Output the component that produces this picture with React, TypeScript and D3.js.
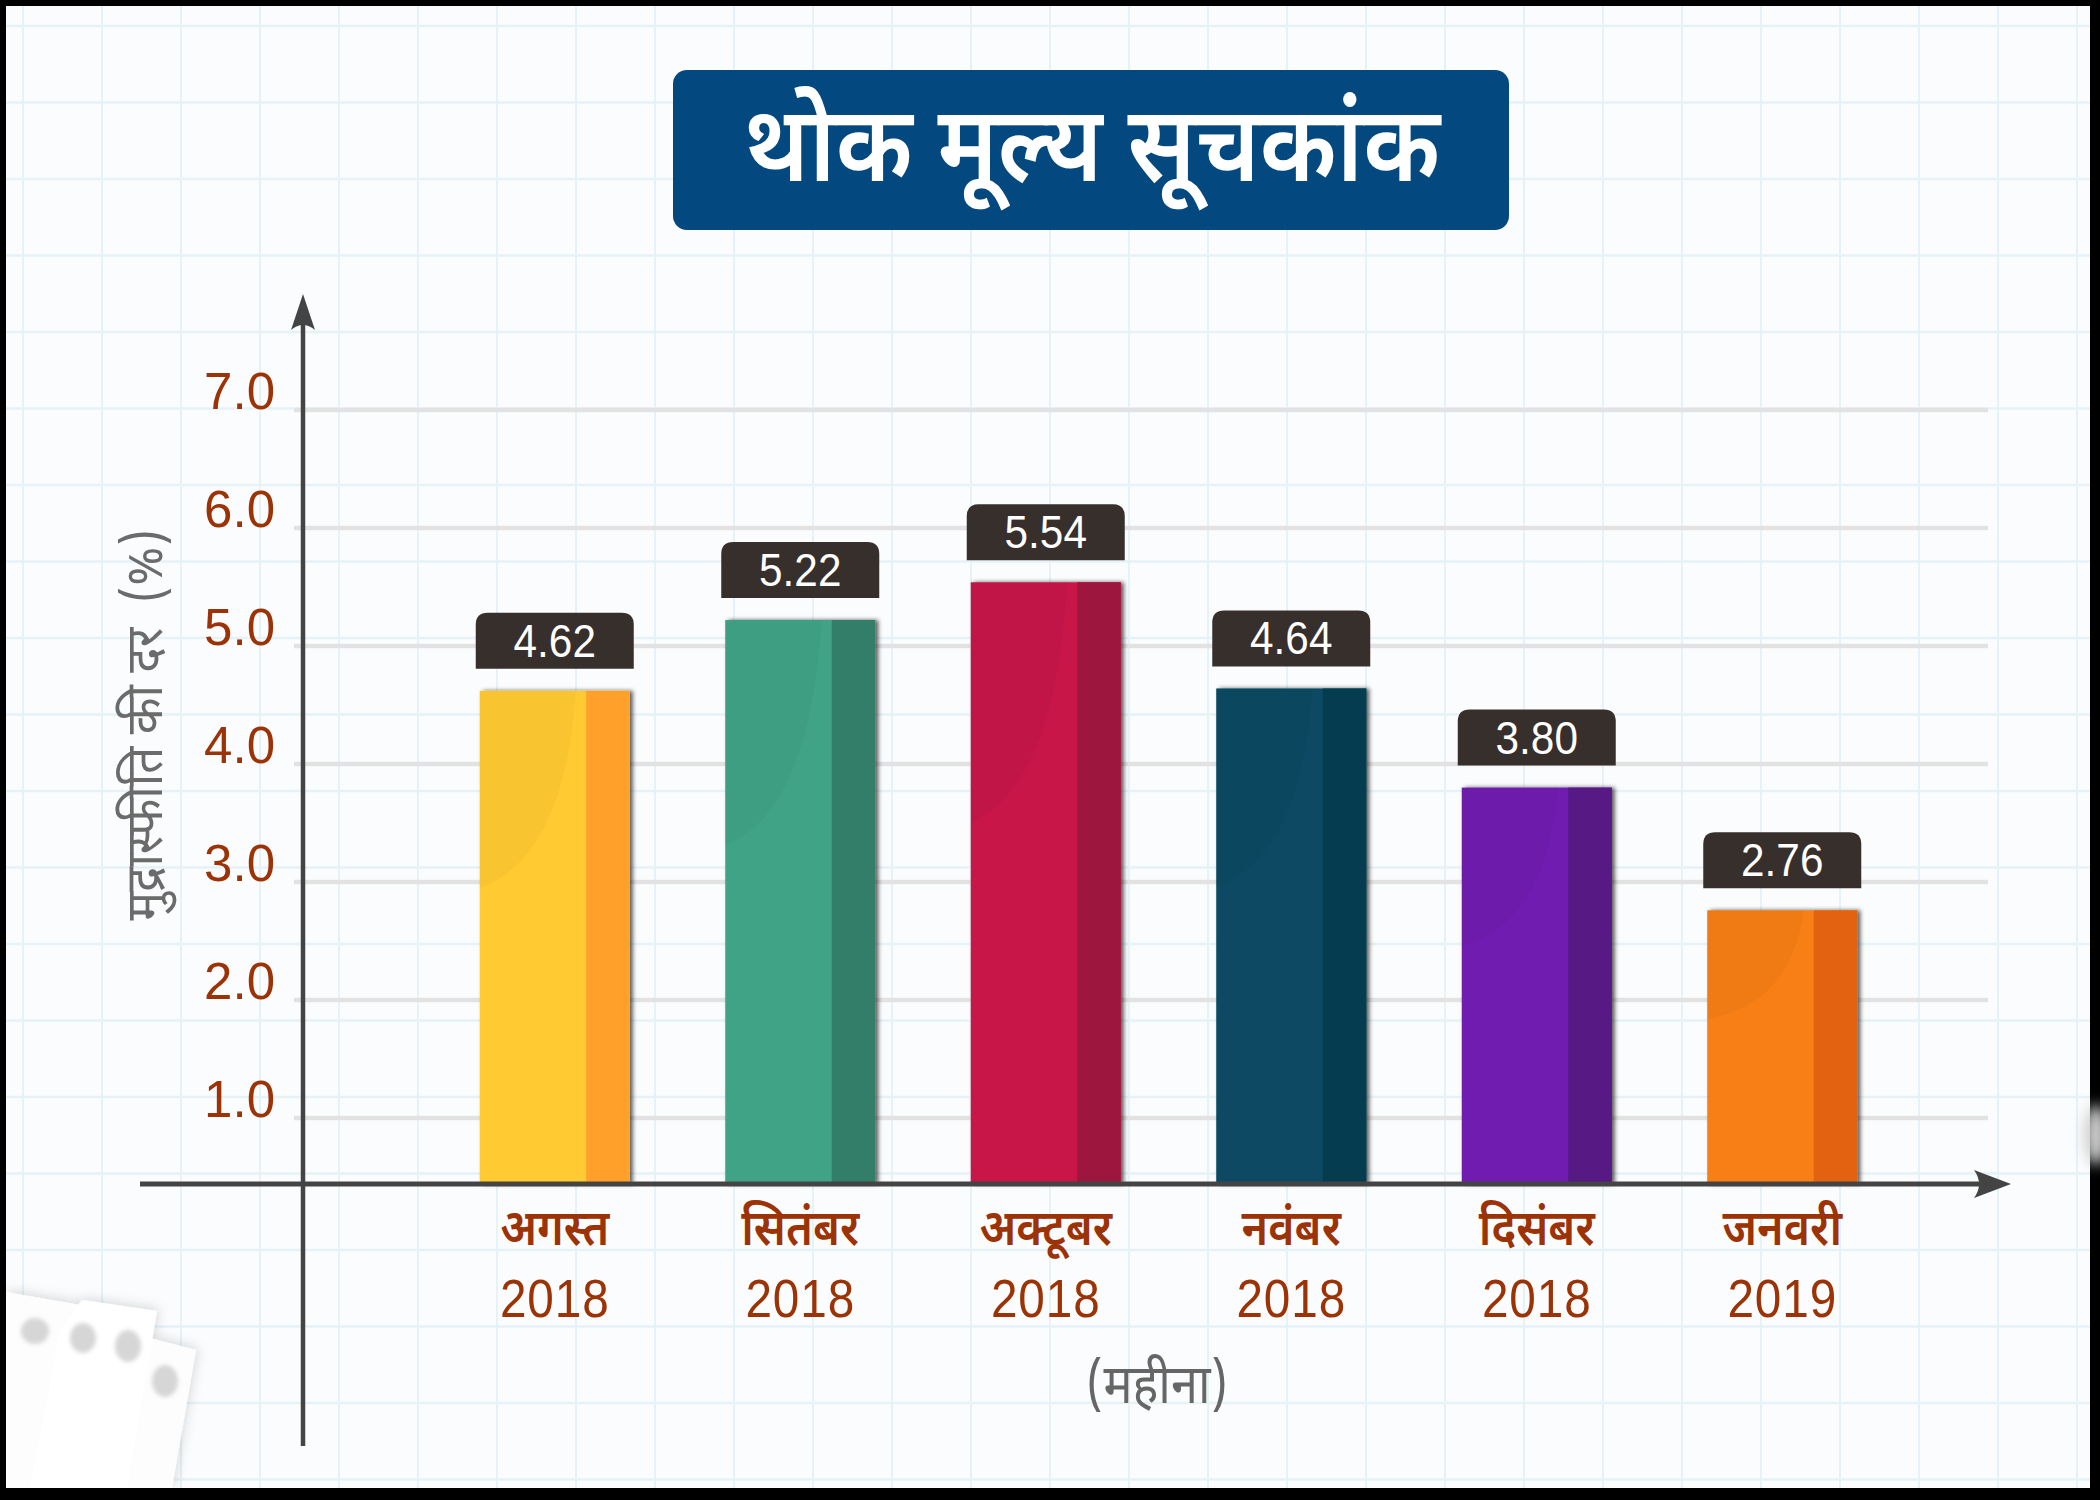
import React from "react";
import * as d3 from "d3";

const categories = ["अगस्त", "सितंबर", "अक्टूबर", "नवंबर", "दिसंबर", "जनवरी"];
const years = ["2018", "2018", "2018", "2018", "2018", "2019"];
const values = [4.62, 5.22, 5.54, 4.64, 3.8, 2.76];
const valueLabels = ["4.62", "5.22", "5.54", "4.64", "3.80", "2.76"];
const frontColors = ["#ffca33", "#40a386", "#c8194a", "#084a63", "#6f1db0", "#f77f12"];
const sideColors = ["#ffa02b", "#327e69", "#9d163d", "#063c50", "#571984", "#e26212"];
const yTicks = [1, 2, 3, 4, 5, 6, 7];
const yTickLabels = ["1.0", "2.0", "3.0", "4.0", "5.0", "6.0", "7.0"];
const title = "थोक मूल्य सूचकांक";
const yAxisTitle = "मुद्रास्फीति की दर \u00a0(%)";
const xAxisTitle = "(महीना)";

const W = 2100;
const H = 1500;
const DEV = "'Noto Sans Devanagari', 'Lohit Devanagari', 'Mukta', 'FreeSans', sans-serif";
const LAT = "'Liberation Sans', Arial, sans-serif";

export default function App() {
  const y = d3.scaleLinear().domain([0, 7]).range([1236, 410]);
  const x = d3
    .scaleBand<string>()
    .domain(categories)
    .range([432, 1905])
    .paddingInner(0.389)
    .paddingOuter(0.1945);
  const baseY = 1184;
  const axisX = 303;
  const gridStart = 294;
  const gridEnd = 1988;
  const bw = x.bandwidth();
  const sideW = bw * 0.29;

  const vLines = d3.range(0, 27).map((k) => 23 + 79 * k);
  const hLines = d3.range(0, 20).map((k) => 26 + 76.5 * k);

  return (
    <svg
      width={W}
      height={H}
      style={{ position: "absolute", left: 0, top: 0, display: "block" }}
    >
      <defs>
        <filter id="barShadow" x="-20%" y="-10%" width="140%" height="120%">
          <feDropShadow dx="3" dy="0" stdDeviation="2.2" floodColor="#000" floodOpacity="0.65" />
        </filter>
        <filter id="paperShadow" x="-30%" y="-30%" width="160%" height="160%">
          <feDropShadow dx="2" dy="-2" stdDeviation="6" floodColor="#000" floodOpacity="0.14" />
        </filter>
        <filter id="blurHole" x="-50%" y="-50%" width="200%" height="200%">
          <feGaussianBlur stdDeviation="2" />
        </filter>
        <filter id="blurBig" x="-100%" y="-100%" width="300%" height="300%">
          <feGaussianBlur stdDeviation="7" />
        </filter>
      </defs>

      {/* frame */}
      <rect x={0} y={0} width={W} height={H} fill="#000" />
      <rect x={6} y={6} width={2084} height={1482} fill="#fbfcfd" />

      {/* graph paper */}
      <g>
        {vLines.map((lx, i) => (
          <line key={"v" + i} x1={lx} x2={lx} y1={6} y2={1488} stroke="#e5f2f8" strokeWidth={2} />
        ))}
        {hLines.map((ly, i) => (
          <line key={"h" + i} x1={6} x2={2090} y1={ly} y2={ly} stroke="#e5f2f8" strokeWidth={2.5} />
        ))}
      </g>

      {/* faint paper piece at right edge */}
      <ellipse cx={2096} cy={1135} rx={12} ry={30} fill="#d0d0d0" filter="url(#blurBig)" />

      {/* paper scraps bottom-left */}
      <g filter="url(#paperShadow)">
        <path d="M6,1292 L80,1305 L100,1488 L6,1488 Z" fill="#fdfdfd" />
        <path d="M142,1336 L196,1350 L172,1488 L118,1488 Z" fill="#fdfdfd" />
        <path d="M82,1300 L157,1311 L127,1488 L30,1488 L60,1330 Z" fill="#ffffff" />
      </g>
      <g filter="url(#blurHole)" fill="#d6d6d6">
        <ellipse cx={35} cy={1331} rx={14} ry={13} />
        <ellipse cx={83} cy={1338} rx={13} ry={15} />
        <ellipse cx={128} cy={1346} rx={13} ry={16} />
        <ellipse cx={165} cy={1381} rx={13} ry={16} />
      </g>
      <rect x={0} y={1488} width={W} height={12} fill="#000" />
      <rect x={0} y={0} width={6} height={H} fill="#000" />

      {/* title */}
      <rect x={673} y={70} width={836} height={160} rx={14} fill="#03497f" />
      <text
        transform="translate(1092, 181) scale(0.9, 1)"
        textAnchor="middle"
        fontFamily={DEV}
        fontWeight={600}
        fontSize={106}
        fill="#ffffff"
      >
        {title}
      </text>

      {/* gridlines */}
      {yTicks.map((t) => (
        <line
          key={"g" + t}
          x1={gridStart}
          x2={gridEnd}
          y1={y(t)}
          y2={y(t)}
          stroke="#e2e2e2"
          strokeWidth={4.5}
        />
      ))}

      {/* y tick labels */}
      {yTicks.map((t, i) => (
        <text
          key={"yl" + t}
          x={275}
          y={y(t) - 1}
          textAnchor="end"
          fontFamily={LAT}
          fontSize={51}
          fill="#9c3306"
        >
          {yTickLabels[i]}
        </text>
      ))}

      {/* y axis title */}
      <text
        transform={`translate(162, 725) rotate(-90) scale(0.92, 1)`}
        textAnchor="middle"
        fontFamily={DEV}
        fontSize={52}
        fill="#6b6b6b"
      >
        {yAxisTitle}
      </text>

      {/* bars */}
      {categories.map((c, i) => {
        const bx = x(c) as number;
        const top = y(values[i]);
        const h = baseY - top;
        const frontW = bw - sideW;
        return (
          <g key={"b" + i}>
            <g filter="url(#barShadow)">
              <rect x={bx} y={top} width={bw} height={h} fill={frontColors[i]} />
            </g>
            <rect x={bx + frontW} y={top} width={sideW} height={h} fill={sideColors[i]} />
            <path
              d={`M${bx},${top} L${bx + frontW - 10},${top} Q${bx + frontW - 22},${top + h * 0.34} ${bx},${top + h * 0.4} Z`}
              fill="#000"
              opacity={0.028}
            />
          </g>
        );
      })}

      {/* value label boxes */}
      {categories.map((c, i) => {
        const cx = (x(c) as number) + bw / 2;
        const top = y(values[i]);
        const bh = 56;
        const bwid = 158;
        const by = top - 22 - bh;
        const r = 12;
        const l = cx - bwid / 2;
        const rr = cx + bwid / 2;
        const d = `M${l},${by + bh} L${l},${by + r} Q${l},${by} ${l + r},${by} L${rr - r},${by} Q${rr},${by} ${rr},${by + r} L${rr},${by + bh} Z`;
        return (
          <g key={"vl" + i}>
            <path d={d} fill="#372f2c" />
            <text
              transform={`translate(${cx}, ${by + 44}) scale(0.9, 1)`}
              textAnchor="middle"
              fontFamily={LAT}
              fontSize={47}
              fill="#ffffff"
            >
              {valueLabels[i]}
            </text>
          </g>
        );
      })}

      {/* axes */}
      <line x1={axisX} x2={axisX} y1={318} y2={1446} stroke="#444" strokeWidth={4.5} />
      <path d={`M${axisX},294 L${axisX + 12},330 Q${axisX},320 ${axisX - 12},330 Z`} fill="#444" />
      <line x1={140} x2={1990} y1={baseY} y2={baseY} stroke="#444" strokeWidth={5} />
      <path d={`M2011,${baseY} L1974,${baseY - 14} Q1984,${baseY} 1974,${baseY + 14} Z`} fill="#444" />

      {/* category labels */}
      {categories.map((c, i) => {
        const cx = (x(c) as number) + bw / 2;
        return (
          <g key={"cl" + i}>
            <text
              transform={`translate(${cx}, 1245) scale(0.9, 1)`}
              textAnchor="middle"
              fontFamily={DEV}
              fontWeight={600}
              fontSize={50}
              fill="#9c3306"
            >
              {c}
            </text>
            <text
              transform={`translate(${cx}, 1317) scale(0.9, 1)`}
              textAnchor="middle"
              fontFamily={LAT}
              fontSize={53}
              letterSpacing={1}
              fill="#9c3306"
            >
              {years[i]}
            </text>
          </g>
        );
      })}

      {/* x axis title */}
      <text
        transform="translate(1157, 1403) scale(0.9, 1)"
        textAnchor="middle"
        fontFamily={DEV}
        fontSize={54}
        fill="#666666"
      >
        {xAxisTitle}
      </text>
    </svg>
  );
}
